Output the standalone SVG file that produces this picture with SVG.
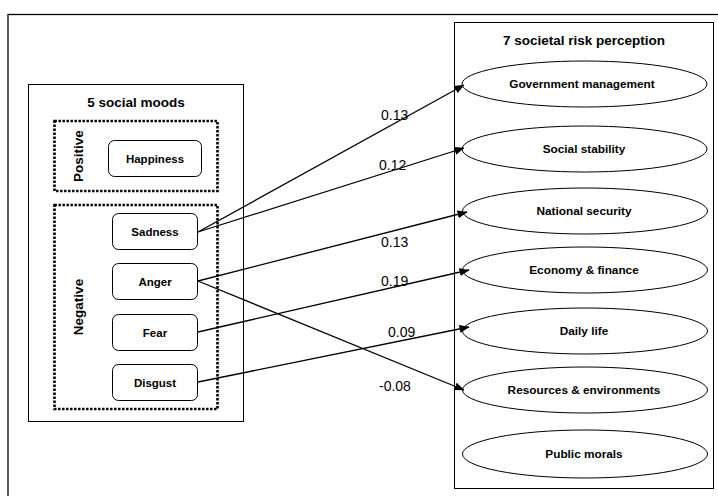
<svg xmlns="http://www.w3.org/2000/svg" width="718" height="496" viewBox="0 0 718 496">
<defs>
<style>
text{font-family:"Liberation Sans",Arial,sans-serif;fill:#000}
.frame{fill:#fff;stroke:#000;stroke-width:1.3}
.box{fill:none;stroke:#000;stroke-width:1}
.dot{fill:none;stroke:#000;stroke-width:2.6;stroke-dasharray:2.4 1.6}
.mood{fill:#fff;stroke:#000;stroke-width:1}
.ell{fill:#fff;stroke:#000;stroke-width:1}
.title{font-size:13.5px;font-weight:bold;text-anchor:middle}
.lbl{font-size:11.5px;font-weight:bold;text-anchor:middle}
.elbl{font-size:11.8px;font-weight:bold;text-anchor:middle}
.grp{font-size:13.5px;font-weight:bold;text-anchor:middle}
.num{font-size:14px}
.conn line{stroke:#000;stroke-width:1.3;marker-end:url(#ah)}
</style>
<marker id="ah" markerWidth="10" markerHeight="8" refX="9.5" refY="4" orient="auto" markerUnits="userSpaceOnUse">
<path d="M0,0 L10,4 L0,8 Z" fill="#000"/>
</marker>
</defs>
<rect width="718" height="496" fill="#fff"/>
<rect class="frame" x="8" y="14.5" width="720" height="490"/>

<g id="moods-panel">
<rect class="box" x="28.5" y="84.5" width="215" height="337"/>
<text class="title" x="136" y="107">5 social moods</text>
</g>
<g id="positive-group">
<rect class="dot" x="54.5" y="121" width="163" height="70"/>
<text class="grp" transform="translate(83,156) rotate(-90)">Positive</text>
</g>
<g id="negative-group">
<rect class="dot" x="54.5" y="205" width="163" height="204"/>
<text class="grp" transform="translate(83,307) rotate(-90)">Negative</text>
</g>
<g id="happiness"><rect class="mood" x="108.5" y="140.5" width="93" height="36" rx="6"/><text class="lbl" x="155" y="162.5">Happiness</text></g>
<g id="sadness"><rect class="mood" x="112.5" y="213.5" width="85" height="36" rx="6"/><text class="lbl" x="155" y="235.5">Sadness</text></g>
<g id="anger"><rect class="mood" x="112.5" y="263.5" width="85" height="36" rx="6"/><text class="lbl" x="155" y="285.5">Anger</text></g>
<g id="fear"><rect class="mood" x="112.5" y="314.5" width="85" height="36" rx="6"/><text class="lbl" x="155" y="336.5">Fear</text></g>
<g id="disgust"><rect class="mood" x="112.5" y="364.5" width="85" height="36" rx="6"/><text class="lbl" x="155" y="386.5">Disgust</text></g>

<g id="risk-panel">
<rect class="box" x="454.5" y="22.5" width="259" height="466"/>
<text class="title" x="584" y="45">7 societal risk perception</text>
</g>
<g id="government"><ellipse class="ell" cx="584.5" cy="84" rx="122.5" ry="23"/><text class="elbl" x="582" y="88">Government management</text></g>
<g id="social-stability"><ellipse class="ell" cx="584.5" cy="149" rx="122.5" ry="23"/><text class="elbl" x="584" y="153">Social stability</text></g>
<g id="national-security"><ellipse class="ell" cx="585" cy="211" rx="122.5" ry="23"/><text class="elbl" x="584" y="215">National security</text></g>
<g id="economy"><ellipse class="ell" cx="585" cy="270" rx="122.5" ry="23"/><text class="elbl" x="584" y="274">Economy &amp; finance</text></g>
<g id="daily-life"><ellipse class="ell" cx="585" cy="331" rx="122.5" ry="23"/><text class="elbl" x="584" y="335">Daily life</text></g>
<g id="resources"><ellipse class="ell" cx="585" cy="390" rx="122.5" ry="23"/><text class="elbl" x="584" y="394">Resources &amp; environments</text></g>
<g id="public-morals"><ellipse class="ell" cx="585" cy="454" rx="122.5" ry="24"/><text class="elbl" x="584" y="458">Public morals</text></g>

<g id="connectors" class="conn">
<line x1="198" y1="232" x2="464" y2="85"/>
<line x1="198" y1="232" x2="464" y2="148"/>
<line x1="198" y1="281" x2="467" y2="212"/>
<line x1="198" y1="332" x2="469" y2="270"/>
<line x1="198" y1="382" x2="469" y2="327"/>
<line x1="198" y1="281" x2="464" y2="390"/>
</g>
<g id="weights" class="num">
<text x="381" y="120">0.13</text>
<text x="379" y="170">0.12</text>
<text x="381" y="247">0.13</text>
<text x="381" y="286">0.19</text>
<text x="388" y="337">0.09</text>
<text x="379" y="391">-0.08</text>
</g>
</svg>
